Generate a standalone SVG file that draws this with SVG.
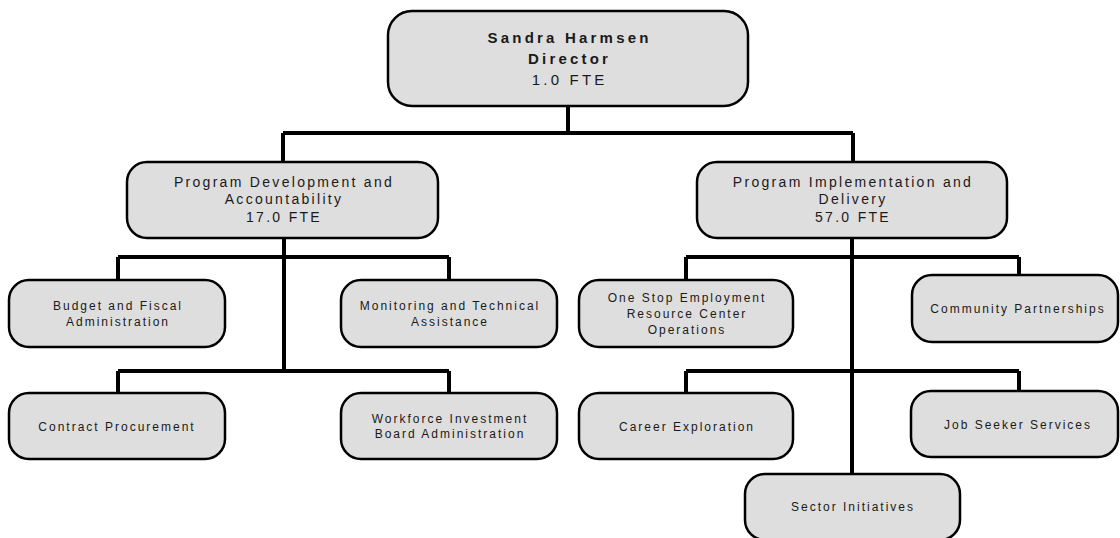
<svg xmlns="http://www.w3.org/2000/svg" width="1120" height="538" viewBox="0 0 1120 538">
<style>
.box{fill:#dedede;stroke:#000;stroke-width:2.5}
.conn{fill:none;stroke:#000;stroke-width:4;stroke-linecap:butt}
text{font-family:"Liberation Sans",Arial,sans-serif;fill:#1a1a1a;text-anchor:middle}
.t0{font-size:15px;letter-spacing:3.2px}
.b{font-weight:bold}
.t1{font-size:14px;letter-spacing:2.3px}
.t2{font-size:12px;letter-spacing:2px}
</style>
<rect width="1120" height="538" fill="#fff"/>
<g id="connectors">
<path class="conn" d="M568 106V133M283 133H853M283 133V162M853 133V162"/>
<path class="conn" d="M284 238V371M118 257H449M118 257V280M449 257V280M118 371H449M118 371V393M449 371V393"/>
<path class="conn" d="M852 238V474M686 257H1019M686 257V280M1019 257V275M686 371H1019M686 371V393M1019 371V391"/>
</g>
<g id="director">
<rect class="box" x="388" y="11" width="360" height="95" rx="24"/>
<text class="t0 b" x="569.6" y="43">Sandra Harmsen</text>
<text class="t0 b" x="569.6" y="64">Director</text>
<text class="t0" x="569.6" y="84.5">1.0 FTE</text>
</g>
<g id="pda">
<rect class="box" x="127" y="162" width="311" height="76" rx="20"/>
<text class="t1" x="284" y="187">Program Development and</text>
<text class="t1" x="284" y="204.3">Accountability</text>
<text class="t1" x="284" y="221.8">17.0 FTE</text>
</g>
<g id="pid">
<rect class="box" x="697" y="162" width="310" height="76" rx="20"/>
<text class="t1" x="853" y="187">Program Implementation and</text>
<text class="t1" x="853" y="204.3">Delivery</text>
<text class="t1" x="853" y="221.8">57.0 FTE</text>
</g>
<g id="budget">
<rect class="box" x="9" y="280" width="216" height="67" rx="20"/>
<text class="t2" x="118" y="310">Budget and Fiscal</text>
<text class="t2" x="118" y="325.5">Administration</text>
</g>
<g id="monitoring">
<rect class="box" x="341" y="280" width="216" height="67" rx="20"/>
<text class="t2" x="450" y="310">Monitoring and Technical</text>
<text class="t2" x="450" y="325.5">Assistance</text>
</g>
<g id="contract">
<rect class="box" x="9" y="393" width="216" height="66" rx="20"/>
<text class="t2" x="117" y="430.5">Contract Procurement</text>
</g>
<g id="workforce">
<rect class="box" x="341" y="393" width="216" height="66" rx="20"/>
<text class="t2" x="450" y="422.5">Workforce Investment</text>
<text class="t2" x="450" y="438">Board Administration</text>
</g>
<g id="onestop">
<rect class="box" x="579" y="280" width="214" height="67" rx="20"/>
<text class="t2" x="687" y="302">One Stop Employment</text>
<text class="t2" x="687" y="318">Resource Center</text>
<text class="t2" x="687" y="333.5">Operations</text>
</g>
<g id="community">
<rect class="box" x="912" y="275" width="206" height="67" rx="20"/>
<text class="t2" x="1018" y="312.5">Community Partnerships</text>
</g>
<g id="career">
<rect class="box" x="579" y="393" width="214" height="66" rx="20"/>
<text class="t2" x="687" y="430.5">Career Exploration</text>
</g>
<g id="jobseeker">
<rect class="box" x="911" y="391" width="207" height="66" rx="20"/>
<text class="t2" x="1018" y="428.5">Job Seeker Services</text>
</g>
<g id="sector">
<rect class="box" x="745" y="474" width="215" height="66" rx="20"/>
<text class="t2" x="853" y="511">Sector Initiatives</text>
</g>
</svg>
